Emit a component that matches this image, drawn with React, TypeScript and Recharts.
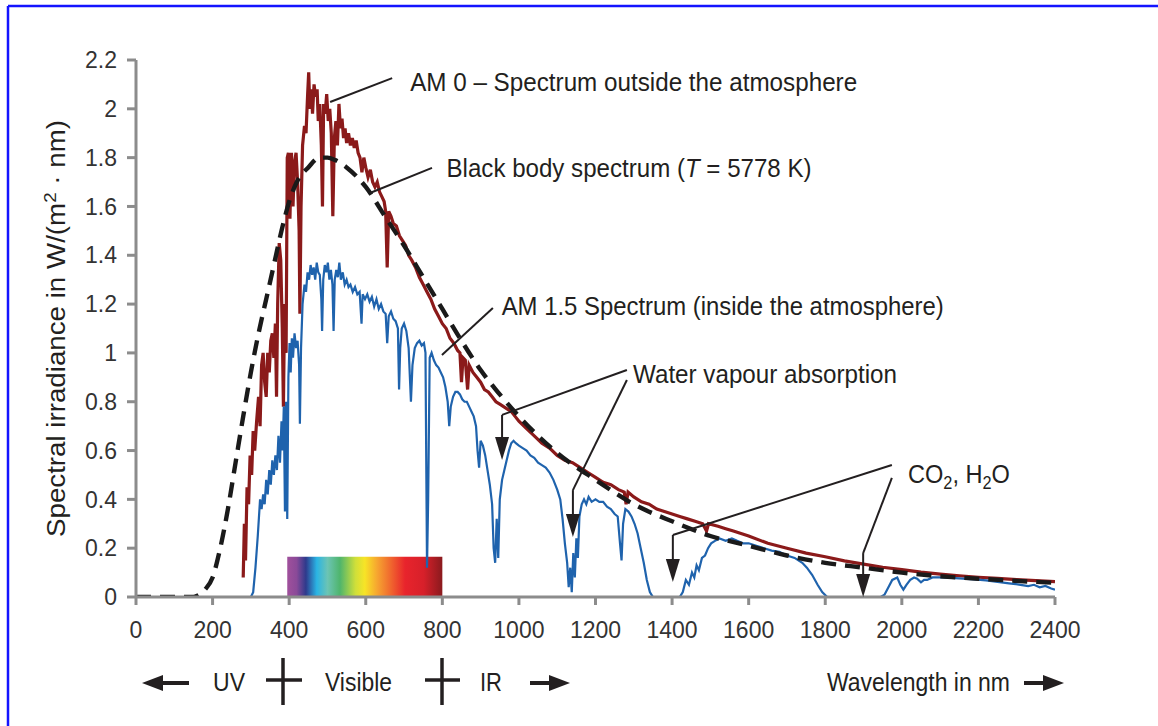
import React from "react";
import {
    LineChart,
    Line,
    XAxis,
    YAxis,
    ReferenceArea,
    ReferenceLine,
    ReferenceDot,
} from "recharts";

const xTicks = [0, 200, 400, 600, 800, 1000, 1200, 1400, 1600, 1800, 2000, 2200, 2400];
const yTicks = [0, 0.2, 0.4, 0.6, 0.8, 1, 1.2, 1.4, 1.6, 1.8, 2, 2.2];

// black body curve (T = 5778 K)
const blackBodyWl = [0, 50, 100, 150, 160, 180, 200, 220, 240, 260, 280, 300, 320, 340, 360, 380, 400, 420, 450, 480, 500, 520, 550, 600, 650, 700, 750, 800, 850, 900, 950, 1000, 1100, 1200, 1300, 1400, 1500, 1600, 1700, 1800, 1900, 2000, 2100, 2200, 2300, 2400];
const blackBodyVal = [0, 0, 0, 0, 0.005, 0.03, 0.08, 0.2, 0.36, 0.55, 0.74, 0.92, 1.08, 1.22, 1.36, 1.5, 1.62, 1.7, 1.76, 1.8, 1.8, 1.79, 1.76, 1.68, 1.56, 1.44, 1.31, 1.18, 1.05, 0.93, 0.83, 0.74, 0.59, 0.48, 0.38, 0.31, 0.25, 0.21, 0.17, 0.14, 0.12, 0.1, 0.085, 0.075, 0.066, 0.058];

// AM 0 spectrum
const am0Wl = [280, 283, 286, 290, 294, 298, 302, 306, 310, 315, 320, 324, 328, 332, 336, 340, 344, 348, 352, 356, 360, 364, 367, 370, 374, 378, 382, 385, 388, 392, 395, 398, 402, 406, 410, 414, 418, 422, 426, 428, 431, 435, 440, 444, 448, 451, 454, 458, 461, 465, 469, 473, 476, 480, 484, 487, 490, 494, 498, 502, 506, 510, 514, 518, 522, 526, 530, 534, 538, 542, 546, 550, 555, 560, 565, 570, 575, 580, 585, 590, 595, 600, 606, 612, 618, 624, 630, 636, 642, 648, 652, 656, 660, 666, 672, 680, 688, 696, 704, 712, 720, 730, 740, 750, 760, 770, 780, 790, 800, 810, 820, 830, 840, 846, 850, 854, 860, 866, 870, 880, 890, 900, 910, 920, 930, 940, 950, 960, 970, 980, 990, 1000, 1020, 1040, 1060, 1080, 1100, 1120, 1140, 1160, 1180, 1200, 1220, 1240, 1260, 1275, 1280, 1285, 1300, 1320, 1340, 1360, 1380, 1400, 1420, 1440, 1460, 1480, 1490, 1495, 1520, 1540, 1560, 1580, 1600, 1650, 1700, 1750, 1800, 1850, 1900, 1950, 2000, 2050, 2100, 2150, 2200, 2250, 2300, 2350, 2400];
const am0Val = [0.08, 0.3, 0.15, 0.45, 0.38, 0.58, 0.5, 0.68, 0.6, 0.72, 0.82, 0.7, 0.95, 1.0, 0.88, 0.82, 1.0, 0.92, 1.05, 1.08, 0.98, 1.12, 0.82, 1.2, 1.45, 1.38, 1.1, 0.78, 1.2, 1.0, 1.8, 1.82, 1.55, 1.82, 1.6, 1.78, 1.82, 1.7, 1.5, 1.16, 1.6, 1.85, 1.93, 1.9, 2.05, 2.15, 2.0, 2.08, 1.98, 2.1, 2.05, 2.08, 1.95, 2.02, 1.85, 1.6, 2.02, 1.98, 2.06, 1.95, 2.0, 1.9, 1.56, 1.88, 1.95, 1.85, 2.02, 1.92, 1.96, 1.88, 1.92, 1.86, 1.9, 1.85, 1.88, 1.84, 1.87, 1.82, 1.8, 1.74, 1.8, 1.76, 1.72, 1.75, 1.7, 1.68, 1.7, 1.66, 1.64, 1.62, 1.58, 1.35, 1.58, 1.56, 1.53, 1.52, 1.48, 1.46, 1.44, 1.4, 1.38, 1.35, 1.31, 1.28, 1.25, 1.22, 1.18, 1.15, 1.12, 1.1, 1.06, 1.04, 1.01, 1.0, 0.88, 0.98, 0.97, 0.85, 0.95, 0.92, 0.9, 0.88, 0.85, 0.84, 0.82, 0.8, 0.79, 0.78, 0.77, 0.76, 0.74, 0.72, 0.69, 0.66, 0.63, 0.61, 0.58, 0.56, 0.55, 0.53, 0.51, 0.49, 0.47, 0.46, 0.44, 0.43, 0.38, 0.43, 0.41, 0.39, 0.38, 0.36, 0.35, 0.34, 0.33, 0.32, 0.31, 0.3, 0.27, 0.3, 0.29, 0.28, 0.27, 0.26, 0.25, 0.22, 0.2, 0.18, 0.165, 0.148, 0.135, 0.122, 0.112, 0.102, 0.094, 0.087, 0.081, 0.076, 0.071, 0.067, 0.063];

// AM 1.5 spectrum
const am15Wl = [280, 300, 306, 312, 318, 324, 328, 332, 336, 340, 344, 348, 352, 356, 360, 364, 368, 372, 376, 380, 383, 386, 389, 392, 395, 398, 401, 404, 407, 410, 414, 418, 422, 426, 428, 431, 435, 440, 444, 448, 452, 456, 460, 464, 468, 472, 476, 480, 484, 486, 489, 493, 497, 501, 505, 509, 513, 516, 519, 523, 527, 531, 535, 540, 545, 550, 555, 560, 566, 572, 578, 584, 589, 592, 598, 604, 610, 616, 622, 628, 634, 640, 646, 652, 656, 660, 666, 672, 678, 684, 687, 690, 694, 700, 706, 712, 718, 722, 728, 734, 740, 746, 752, 756, 760, 763, 767, 772, 778, 784, 790, 796, 802, 808, 814, 818, 822, 828, 834, 840, 846, 852, 858, 864, 870, 876, 882, 888, 892, 896, 900, 906, 912, 918, 924, 930, 934, 938, 942, 946, 950, 956, 962, 968, 974, 980, 986, 992, 1000, 1010, 1020, 1030, 1040, 1050, 1060, 1070, 1080, 1090, 1100, 1108, 1114, 1120, 1126, 1130, 1134, 1138, 1142, 1146, 1150, 1154, 1158, 1164, 1170, 1176, 1182, 1190, 1200, 1210, 1220, 1230, 1240, 1250, 1258, 1264, 1268, 1272, 1278, 1286, 1294, 1302, 1310, 1318, 1326, 1334, 1342, 1350, 1420, 1428, 1436, 1444, 1452, 1458, 1464, 1470, 1478, 1486, 1494, 1502, 1512, 1524, 1540, 1556, 1570, 1585, 1600, 1620, 1640, 1660, 1680, 1700, 1720, 1740, 1752, 1766, 1780, 1792, 1805, 1945, 1955, 1965, 1975, 1988, 1996, 2004, 2012, 2022, 2032, 2040, 2050, 2058, 2066, 2080, 2100, 2130, 2160, 2190, 2220, 2250, 2280, 2310, 2330, 2345, 2360, 2375, 2390, 2400];
const am15Val = [0, 0, 0.02, 0.12, 0.25, 0.4, 0.36, 0.42, 0.38, 0.48, 0.42, 0.52, 0.46, 0.56, 0.5, 0.58, 0.52, 0.66, 0.55, 0.72, 0.6, 0.78, 0.35, 0.8, 0.32, 0.9, 1.04, 0.92, 1.06, 0.98, 1.08, 1.02, 1.05, 0.95, 0.71, 1.02, 1.2, 1.28, 1.25, 1.33, 1.3, 1.36, 1.32, 1.35, 1.3, 1.37, 1.33, 1.32, 1.22, 1.09, 1.3, 1.36, 1.33, 1.37, 1.3, 1.34, 1.28, 1.09, 1.3, 1.34, 1.31, 1.37, 1.3, 1.33, 1.28, 1.3, 1.27, 1.28, 1.25, 1.27, 1.24, 1.25, 1.12, 1.24, 1.22, 1.24, 1.21, 1.23, 1.19, 1.22, 1.18, 1.2, 1.17, 1.16, 1.04, 1.15, 1.17, 1.14, 1.13, 1.1, 0.85, 1.02, 1.1, 1.12, 1.09, 1.02, 0.8, 0.95, 1.02, 1.04, 1.05, 1.03, 1.04, 1.0, 0.12, 0.4, 0.98, 1.0, 0.97, 0.95, 0.94, 0.92, 0.9, 0.86, 0.8, 0.7, 0.78, 0.82, 0.84, 0.84, 0.83, 0.81, 0.8, 0.8, 0.78, 0.76, 0.74, 0.7, 0.6, 0.53, 0.64, 0.62, 0.58, 0.52, 0.46, 0.38, 0.2, 0.14, 0.32, 0.16, 0.4, 0.48, 0.52, 0.56, 0.6, 0.63, 0.64, 0.63, 0.62, 0.61, 0.6, 0.58, 0.57, 0.55, 0.54, 0.53, 0.51, 0.48, 0.44, 0.4, 0.32, 0.22, 0.14, 0.04, 0.12, 0.02, 0.18, 0.08, 0.24, 0.16, 0.33, 0.38, 0.4, 0.38, 0.41, 0.39, 0.4, 0.39, 0.39, 0.37, 0.36, 0.34, 0.33, 0.22, 0.15, 0.3, 0.36, 0.35, 0.33, 0.3, 0.26, 0.2, 0.14, 0.07, 0.02, 0, 0, 0.02, 0.07, 0.05, 0.1, 0.08, 0.13, 0.11, 0.16, 0.17, 0.2, 0.22, 0.23, 0.24, 0.23, 0.24, 0.23, 0.22, 0.22, 0.21, 0.2, 0.19, 0.185, 0.17, 0.16, 0.14, 0.12, 0.09, 0.05, 0.02, 0, 0, 0.01, 0.04, 0.07, 0.08, 0.05, 0.03, 0.05, 0.07, 0.08, 0.075, 0.06, 0.07, 0.07, 0.08, 0.08, 0.078, 0.075, 0.072, 0.068, 0.062, 0.056, 0.05, 0.045, 0.05, 0.04, 0.045, 0.035, 0.03];

const toPoints = (wl: number[], val: number[]) => wl.map((x, i) => ({ x, y: val[i] }));

const FONT = '"Liberation Sans", Arial, sans-serif';
const INK = "#231f20";

// leader lines of the annotations, in data units
const leaders = [
    [{ x: 507, y: 2.028 }, { x: 669, y: 2.126 }],
    [{ x: 611, y: 1.655 }, { x: 773, y: 1.758 }],
    [{ x: 799, y: 0.991 }, { x: 932, y: 1.184 }],
    [{ x: 1282, y: 0.93 }, { x: 956, y: 0.746 }],
    [{ x: 956, y: 0.746 }, { x: 956, y: 0.6 }],
    [{ x: 1282, y: 0.889 }, { x: 1141, y: 0.438 }],
    [{ x: 1141, y: 0.438 }, { x: 1141, y: 0.28 }],
    [{ x: 1974, y: 0.541 }, { x: 1402, y: 0.254 }],
    [{ x: 1402, y: 0.254 }, { x: 1402, y: 0.1 }],
    [{ x: 1974, y: 0.488 }, { x: 1899, y: 0.18 }],
    [{ x: 1899, y: 0.18 }, { x: 1899, y: 0.04 }],
];
const arrowTips = [
    { x: 956, y: 0.561 },
    { x: 1141, y: 0.246 },
    { x: 1402, y: 0.061 },
    { x: 1899, y: 0.0 },
];

const Arrow = (p: any) => (
    <polygon
        points={`${p.cx},${p.cy} ${p.cx - 7},${p.cy - 23} ${p.cx + 7},${p.cy - 23}`}
        fill={INK}
    />
);

// the figure uses a condensed face; squeeze Liberation Sans to the measured widths
const textShape = (content: React.ReactNode, len: number) => (p: any) => (
    <text
        x={p.cx}
        y={p.cy}
        fontFamily={FONT}
        fontSize={26}
        fill={INK}
        textLength={len}
        lengthAdjust="spacingAndGlyphs">
        {content}
    </text>
);

function SolarSpectrum() {
    return (
        <div style={{ position: "fixed", left: 0, top: 0, width: 1158, height: 726, background: "#fff" }}>
            <LineChart
                width={1158}
                height={726}
                margin={{ top: 60, right: 103, bottom: 79, left: 76 }}>
                <defs>
                    <linearGradient id="visible" x1="0" y1="0" x2="1" y2="0">
                        <stop offset="0" stopColor="#a0509c" />
                        <stop offset="0.06" stopColor="#8a4a98" />
                        <stop offset="0.12" stopColor="#2e3a8c" />
                        <stop offset="0.19" stopColor="#2ab4e4" />
                        <stop offset="0.26" stopColor="#6cc4b4" />
                        <stop offset="0.34" stopColor="#4fb56c" />
                        <stop offset="0.44" stopColor="#cfdf3a" />
                        <stop offset="0.5" stopColor="#f7e426" />
                        <stop offset="0.58" stopColor="#f6a530" />
                        <stop offset="0.67" stopColor="#f0652e" />
                        <stop offset="0.76" stopColor="#e8242c" />
                        <stop offset="0.88" stopColor="#d7202a" />
                        <stop offset="1" stopColor="#8a1a1e" />
                    </linearGradient>
                </defs>
                <XAxis
                    type="number"
                    dataKey="x"
                    domain={[0, 2400]}
                    ticks={xTicks}
                    allowDataOverflow
                    height={50}
                    stroke="#8c8c8c"
                    strokeWidth={3}
                    tickSize={8}
                    tickMargin={17}
                    tick={{ fill: "#333", fontSize: 23, fontFamily: FONT }}
                />
                <YAxis
                    type="number"
                    domain={[0, 2.2]}
                    ticks={yTicks}
                    allowDataOverflow
                    width={60}
                    stroke="#8c8c8c"
                    strokeWidth={3}
                    tickSize={9}
                    tickMargin={10}
                    tick={{ fill: "#333", fontSize: 23, fontFamily: FONT }}
                />
                <ReferenceArea x1={395} x2={800} y1={0} y2={0.165} fill="url(#visible)" fillOpacity={1} stroke="none" />
                <Line
                    data={toPoints(am0Wl, am0Val)}
                    dataKey="y"
                    type="linear"
                    stroke="#8b1a1a"
                    strokeWidth={3.2}
                    dot={false}
                    isAnimationActive={false}
                />
                <Line
                    data={toPoints(am15Wl, am15Val)}
                    dataKey="y"
                    type="linear"
                    stroke="#1f63ad"
                    strokeWidth={2.2}
                    dot={false}
                    isAnimationActive={false}
                />
                <Line
                    data={toPoints(blackBodyWl, blackBodyVal)}
                    dataKey="y"
                    type="monotone"
                    stroke="#1a1a1a"
                    strokeWidth={4.4}
                    strokeDasharray="15 9"
                    dot={false}
                    isAnimationActive={false}
                />
                {leaders.map((s, i) => (
                    <ReferenceLine key={i} segment={s} stroke={INK} strokeWidth={2} ifOverflow="visible" />
                ))}
                {arrowTips.map((t, i) => (
                    <ReferenceDot key={i} x={t.x} y={t.y} r={0} shape={Arrow} ifOverflow="visible" />
                ))}
                <ReferenceDot x={716} y={2.074} r={0} ifOverflow="visible"
                    shape={textShape("AM 0 – Spectrum outside the atmosphere", 447)} />
                <ReferenceDot x={811} y={1.722} r={0} ifOverflow="visible"
                    shape={textShape(<>Black body spectrum (<tspan fontStyle="italic">T</tspan> = 5778 K)</>, 365)} />
                <ReferenceDot x={955} y={1.155} r={0} ifOverflow="visible"
                    shape={textShape("AM 1.5 Spectrum (inside the atmosphere)", 442)} />
                <ReferenceDot x={1298} y={0.877} r={0} ifOverflow="visible"
                    shape={textShape("Water vapour absorption", 264)} />
                <ReferenceDot x={2016} y={0.467} r={0} ifOverflow="visible"
                    shape={textShape(<>CO<tspan fontSize={18} dy={6}>2</tspan><tspan dy={-6}>, H</tspan><tspan fontSize={18} dy={6}>2</tspan><tspan dy={-6}>O</tspan></>, 102)} />
            </LineChart>
            <svg
                width={1158}
                height={726}
                style={{ position: "absolute", left: 0, top: 0, pointerEvents: "none" }}>
                <line x1={8} y1={6} x2={1158} y2={6} stroke="#1414ff" strokeWidth={2.5} />
                <line x1={8} y1={6} x2={8} y2={726} stroke="#1414ff" strokeWidth={2.5} />
                <text
                    transform="translate(65,537) rotate(-90)"
                    fontFamily={FONT}
                    fontSize={25}
                    fill={INK}
                    textLength={417}
                    lengthAdjust="spacingAndGlyphs">
                    Spectral irradiance in W/(m<tspan fontSize={17} dy={-9}>2</tspan><tspan dy={9}> · nm)</tspan>
                </text>
                <g fill={INK} stroke={INK} fontFamily={FONT} fontSize={26}>
                    <line x1={160} y1={683} x2={189} y2={683} strokeWidth={4} />
                    <polygon points="142,683 163,675 163,691" stroke="none" />
                    <text x={213} y={691} stroke="none" textLength={32} lengthAdjust="spacingAndGlyphs">UV</text>
                    <line x1={283} y1={658} x2={283} y2={705} strokeWidth={3.5} />
                    <line x1={266} y1={680} x2={302} y2={680} strokeWidth={3.5} />
                    <text x={325} y={691} stroke="none" textLength={67} lengthAdjust="spacingAndGlyphs">Visible</text>
                    <line x1={442} y1={658} x2={442} y2={705} strokeWidth={3.5} />
                    <line x1={425} y1={680} x2={460} y2={680} strokeWidth={3.5} />
                    <text x={480} y={691} stroke="none" textLength={22} lengthAdjust="spacingAndGlyphs">IR</text>
                    <line x1={530} y1={683} x2={552} y2={683} strokeWidth={4} />
                    <polygon points="570,683 549,675 549,691" stroke="none" />
                    <text x={827} y={691} stroke="none" textLength={183} lengthAdjust="spacingAndGlyphs">Wavelength in nm</text>
                    <line x1={1024} y1={683} x2={1046} y2={683} strokeWidth={4} />
                    <polygon points="1064,683 1043,675 1043,691" stroke="none" />
                </g>
            </svg>
        </div>
    );
}

export default function App() {
    return <SolarSpectrum />;
}
